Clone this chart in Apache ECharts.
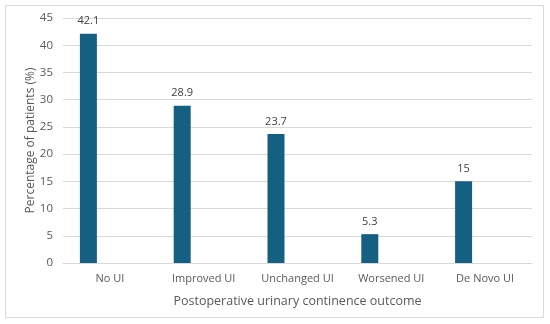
<!DOCTYPE html>
<html><head><meta charset="utf-8">
<script src="https://cdn.jsdelivr.net/npm/echarts@6/dist/echarts.min.js"></script>
<style>html,body{margin:0;padding:0;background:#fff}#c{width:550px;height:324px}</style>
</head><body><div id="c"></div>
<script>
const categories = ['No UI', 'Improved UI', 'Unchanged UI', 'Worsened UI', 'De Novo UI'];
const values = [42.1, 28.9, 23.7, 5.3, 15];
const placeholder = [null, null, null, null, null];
const yTicks = {min: 0, max: 45, interval: 5};

const chart = echarts.init(document.getElementById('c'), null, {renderer: 'canvas'});
const font = 'Open Sans';
chart.setOption({
  animation: false,
  textStyle: {fontFamily: font},
  graphic: [{type: 'rect', shape: {x: 5.5, y: 5.5, width: 538, height: 312}, style: {fill: 'none', stroke: '#d9d9d9', lineWidth: 1}}],
  grid: {left: 63, right: 18, top: 18, bottom: 61},
  xAxis: {
    type: 'category', data: categories,
    axisLine: {show: true, lineStyle: {color: '#d9d9d9'}},
    axisTick: {show: false},
    axisLabel: {color: '#595959', fontSize: 11, margin: 10, interval: 0, fontFamily: font},
    name: 'Postoperative urinary continence outcome', nameLocation: 'middle', nameGap: 32,
    nameTextStyle: {color: '#595959', fontSize: 12.5, fontFamily: font}
  },
  yAxis: {
    type: 'value', min: yTicks.min, max: yTicks.max, interval: yTicks.interval,
    axisLine: {show: false}, axisTick: {show: false},
    splitLine: {lineStyle: {color: '#d9d9d9'}},
    axisLabel: {color: '#595959', fontSize: 11.5, margin: 10, fontFamily: font},
    name: 'Percentage of patients (%)', nameLocation: 'middle', nameGap: 26, nameMoveOverlap: false,
    nameTextStyle: {color: '#595959', fontSize: 12, fontFamily: font}
  },
  series: [
    {type: 'bar', data: values, barWidth: 17, barGap: '153%',
     itemStyle: {color: '#156082'},
     label: {show: true, position: 'top', distance: 7, color: '#404040', fontSize: 11, fontFamily: font}},
    {type: 'bar', data: placeholder, barWidth: 17, itemStyle: {color: '#e97132'}}
  ]
});
</script></body></html>
